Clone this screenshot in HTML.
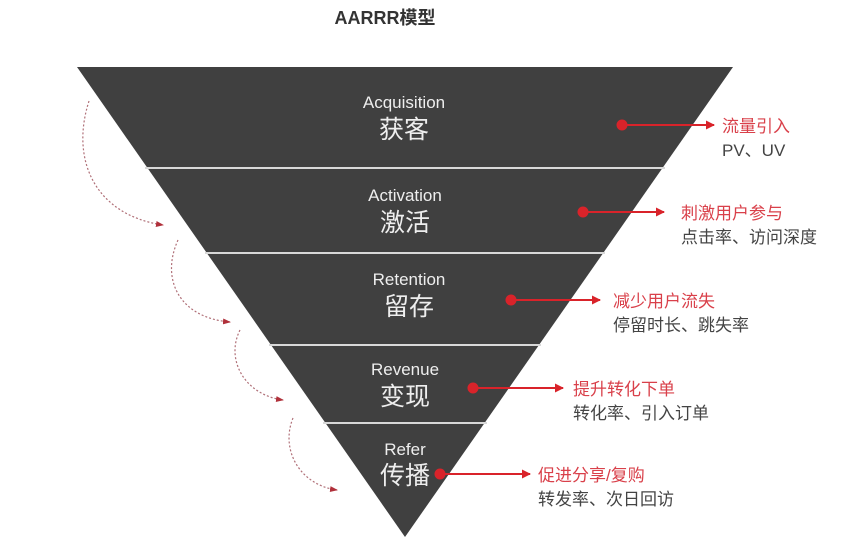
<!DOCTYPE html>
<html><head><meta charset="utf-8"><style>
body{margin:0;background:#fff;}
svg text{font-family:"Liberation Sans","Noto Sans CJK SC",sans-serif;}
</style></head><body>
<svg width="845" height="544" viewBox="0 0 845 544" xmlns="http://www.w3.org/2000/svg">
<defs>
<marker id="ar" markerWidth="9" markerHeight="9" refX="8" refY="4.5" orient="auto" markerUnits="userSpaceOnUse"><path d="M0,0 L9,4.5 L0,9 Z" fill="#d9232a"/></marker>
<marker id="ad" markerWidth="8" markerHeight="8" refX="7" refY="4" orient="auto" markerUnits="userSpaceOnUse"><path d="M0,1 L8,4 L0,7 Z" fill="#b0303a"/></marker>
</defs>
<rect width="845" height="544" fill="#fff"/>
<text x="385" y="24" font-size="18" font-weight="bold" fill="#333" text-anchor="middle">AARRR模型</text>
<polygon points="77,67 733,67 405,537" fill="#404040"/>
<g stroke="#d8d8d8" stroke-width="2">
<line x1="145" y1="168" x2="665" y2="168"/>
<line x1="205" y1="253" x2="605" y2="253"/>
<line x1="269" y1="345" x2="541" y2="345"/>
<line x1="323" y1="423" x2="487" y2="423"/>
</g>
<g fill="#eee" text-anchor="middle">
<text x="404" y="108" font-size="17">Acquisition</text>
<text x="404" y="138" font-size="25">获客</text>
<text x="405" y="201" font-size="17">Activation</text>
<text x="405" y="231" font-size="25">激活</text>
<text x="409" y="285" font-size="17">Retention</text>
<text x="409" y="315" font-size="25">留存</text>
<text x="405" y="375" font-size="17">Revenue</text>
<text x="405" y="405" font-size="25">变现</text>
<text x="405" y="455" font-size="17">Refer</text>
<text x="405" y="484" font-size="25">传播</text>
</g>
<g stroke="#d9232a" stroke-width="2" fill="none">
<line x1="622" y1="125" x2="714" y2="125" marker-end="url(#ar)"/>
<line x1="583" y1="212" x2="664" y2="212" marker-end="url(#ar)"/>
<line x1="511" y1="300" x2="600" y2="300" marker-end="url(#ar)"/>
<line x1="473" y1="388" x2="563" y2="388" marker-end="url(#ar)"/>
<line x1="440" y1="474" x2="530" y2="474" marker-end="url(#ar)"/>
</g>
<g fill="#d9232a">
<circle cx="622" cy="125" r="5.5"/><circle cx="583" cy="212" r="5.5"/><circle cx="511" cy="300" r="5.5"/><circle cx="473" cy="388" r="5.5"/><circle cx="440" cy="474" r="5.5"/>
</g>
<g font-size="17">
<text x="722" y="132" fill="#d9404a">流量引入</text>
<text x="722" y="156" fill="#444">PV、UV</text>
<text x="681" y="219" fill="#d9404a">刺激用户参与</text>
<text x="681" y="243" fill="#444">点击率、访问深度</text>
<text x="613" y="307" fill="#d9404a">减少用户流失</text>
<text x="613" y="331" fill="#444">停留时长、跳失率</text>
<text x="573" y="395" fill="#d9404a">提升转化下单</text>
<text x="573" y="419" fill="#444">转化率、引入订单</text>
<text x="538" y="481" fill="#d9404a">促进分享/复购</text>
<text x="538" y="505" fill="#444">转发率、次日回访</text>
</g>
<g stroke="#b07078" stroke-width="1.2" stroke-dasharray="2,2" fill="none">
<path d="M89,101 C70,160 95,215 163,225" marker-end="url(#ad)"/>
<path d="M178,240 C160,280 180,318 230,322" marker-end="url(#ad)"/>
<path d="M240,330 C225,360 245,395 283,400" marker-end="url(#ad)"/>
<path d="M293,418 C280,450 300,485 337,490" marker-end="url(#ad)"/>
</g>
</svg>
</body></html>
